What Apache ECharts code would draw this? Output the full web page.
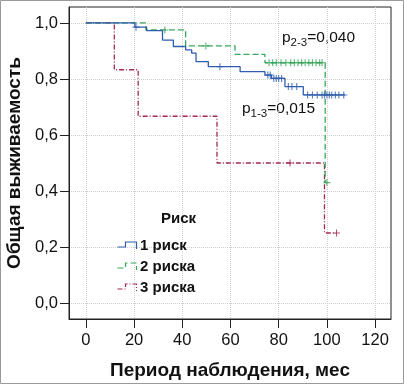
<!DOCTYPE html>
<html>
<head>
<meta charset="utf-8">
<script src="https://cdn.jsdelivr.net/npm/echarts@6/dist/echarts.min.js"></script>
<style>
html, body { margin: 0; padding: 0; background: #fff; }
#chart { width: 404px; height: 384px; }
</style>
</head>
<body>
<div id="chart"></div>
<script>
// ticks
const xTicks = [0, 20, 40, 60, 80, 100, 120]
const yTicks = [0, 0.2, 0.4, 0.6, 0.8, 1.0]

// 1 риск
const risk1Time = [0, 20.3, 25.2, 31.8, 36.3, 41.4, 43.9, 45.7, 50.8, 64, 74.3, 77, 82.6, 90.2, 107.5]
const risk1Surv = [1, 0.985, 0.973, 0.939, 0.916, 0.904, 0.892, 0.862, 0.844, 0.826, 0.814, 0.802, 0.773, 0.743, 0.743]
const risk1CensTime = [20.8, 55.6, 75.5, 76.5, 78, 79, 80, 81.2, 84, 85.5, 87.5, 92, 94, 96, 98, 99, 100, 101, 102, 103.5, 105, 107]
const risk1CensSurv = [0.985, 0.844, 0.814, 0.814, 0.802, 0.802, 0.802, 0.802, 0.773, 0.773, 0.773, 0.743, 0.743, 0.743, 0.743, 0.743, 0.743, 0.743, 0.743, 0.743, 0.743, 0.743]

// 2 риска
const risk2Time = [0, 24.9, 41.4, 61.9, 74.3, 99.3, 100]
const risk2Surv = [1, 0.975, 0.918, 0.888, 0.858, 0.43, 0.43]
const risk2CensTime = [32.8, 49.8, 76, 77.5, 79, 81, 83, 85, 86.5, 88, 89.5, 91, 92.5, 94, 95.5, 97, 98, 100]
const risk2CensSurv = [0.975, 0.918, 0.858, 0.858, 0.858, 0.858, 0.858, 0.858, 0.858, 0.858, 0.858, 0.858, 0.858, 0.858, 0.858, 0.858, 0.858, 0.43]

// 3 риска
const risk3Time = [0, 11.8, 21.7, 54.4, 99, 104]
const risk3Surv = [1, 0.833, 0.667, 0.5, 0.25, 0.25]
const risk3CensTime = [84.7, 104]
const risk3CensSurv = [0.5, 0.25]

const colors = ['#2f5eae', '#38a55c', '#a3294f']
const names = ['1 риск', '2 риска', '3 риска']
const dashes = ['solid', [6, 3], [5, 2, 1, 2]]
const plus = 'path://M4.2,0 H5.8 V4.2 H10 V5.8 H5.8 V10 H4.2 V5.8 H0 V4.2 H4.2 Z'
const stepIcon = 'path://M0,5 H8 V0 H19 V7'
const font = '"Liberation Sans", Arial, sans-serif'

const pairs = (a, b) => a.map((v, i) => [v, b[i]])
const curves = [
  [risk1Time, risk1Surv, risk1CensTime, risk1CensSurv],
  [risk2Time, risk2Surv, risk2CensTime, risk2CensSurv],
  [risk3Time, risk3Surv, risk3CensTime, risk3CensSurv]
]

const series = []
curves.forEach((c, i) => {
  series.push({
    name: names[i],
    type: 'line',
    step: 'end',
    data: pairs(c[0], c[1]),
    symbol: 'none',
    lineStyle: { color: colors[i], width: 1.3, type: dashes[i] },
    itemStyle: { color: colors[i] },
    z: 3 - i
  })
  series.push({
    name: 'cens' + i,
    type: 'scatter',
    data: pairs(c[2], c[3]),
    symbol: plus,
    symbolSize: 7,
    itemStyle: { color: colors[i] },
    z: 5
  })
})

const chart = echarts.init(document.getElementById('chart'))
chart.setOption({
  animation: false,
  textStyle: { fontFamily: font },
  title: {
    text: 'Риск',
    left: 156,
    top: 206,
    textStyle: { fontFamily: font, fontSize: 15, fontWeight: 'bold', color: '#111' }
  },
  legend: {
    orient: 'vertical',
    left: 110,
    top: 233,
    itemWidth: 20,
    itemHeight: 7,
    itemGap: 6,
    textStyle: { fontFamily: font, fontSize: 15, fontWeight: 'bold', color: '#111', padding: [0, 0, 0, -2] },
    data: names.map((n, i) => ({
      name: n,
      icon: stepIcon,
      itemStyle: { color: 'none', borderColor: colors[i], borderWidth: 1.2, borderType: dashes[i] }
    }))
  },
  grid: {
    left: 69, right: 13, top: 7, bottom: 65,
    outerBoundsMode: 'none',
    show: true,
    borderColor: '#222',
    borderWidth: 1
  },
  xAxis: {
    type: 'value',
    min: -7,
    max: 126.6,
    name: 'Период наблюдения, мес',
    nameLocation: 'middle',
    nameGap: 42,
    nameTextStyle: { fontFamily: font, fontSize: 19, fontWeight: 'bold', color: '#111' },
    axisLine: { show: true, onZero: false, lineStyle: { color: '#222', width: 1 } },
    axisTick: { show: true, inside: false, length: 9, customValues: xTicks, lineStyle: { color: '#222' } },
    axisLabel: { customValues: xTicks, margin: 13, fontSize: 16.5, color: '#111', fontFamily: font },
    splitLine: { show: true, lineStyle: { color: '#d0d0d0', type: 'dotted' } }
  },
  yAxis: {
    type: 'value',
    min: -0.057,
    max: 1.057,
    name: 'Общая выживаемость',
    nameLocation: 'middle',
    nameGap: 40,
    nameTextStyle: { fontFamily: font, fontSize: 19, fontWeight: 'bold', color: '#111' },
    axisLine: { show: true, onZero: false, lineStyle: { color: '#222', width: 1 } },
    axisTick: { show: true, inside: false, length: 9, customValues: yTicks, lineStyle: { color: '#222' } },
    axisLabel: {
      customValues: yTicks, margin: 11, fontSize: 16.5, color: '#111', fontFamily: font,
      formatter: v => v.toFixed(1).replace('.', ',')
    },
    splitLine: { show: true, lineStyle: { color: '#d0d0d0', type: 'dotted' } }
  },
  graphic: [
    {
      type: 'rect',
      shape: { x: 0.5, y: 0.5, width: 403, height: 383 },
      style: { fill: 'none', stroke: '#999', lineWidth: 1 },
      silent: true
    },
    {
      type: 'text', left: 282, top: 30,
      style: {
        text: '{p|p}{s|2-3}{p|=0,040}',
        rich: {
          p: { fontFamily: font, fontSize: 15.5, fill: '#111' },
          s: { fontFamily: font, fontSize: 11.5, fill: '#111', padding: [9, 0, 0, 0] }
        }
      }
    },
    {
      type: 'text', left: 242, top: 101,
      style: {
        text: '{p|p}{s|1-3}{p|=0,015}',
        rich: {
          p: { fontFamily: font, fontSize: 15.5, fill: '#111' },
          s: { fontFamily: font, fontSize: 11.5, fill: '#111', padding: [9, 0, 0, 0] }
        }
      }
    }
  ],
  series: series
})
</script>
</body>
</html>
